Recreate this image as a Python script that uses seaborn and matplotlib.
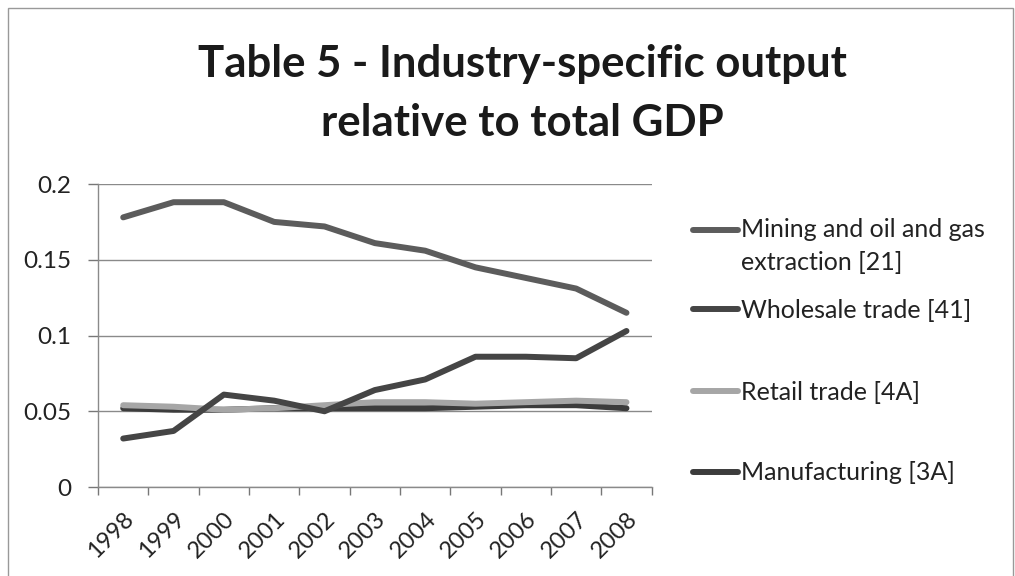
import matplotlib
matplotlib.use("Agg")
import matplotlib.pyplot as plt
import seaborn as sns
import pandas as pd
from matplotlib.patches import Rectangle
from matplotlib.transforms import Affine2D

years = ["1998", "1999", "2000", "2001", "2002", "2003", "2004", "2005", "2006", "2007", "2008"]
mining = [0.178, 0.188, 0.188, 0.175, 0.172, 0.161, 0.156, 0.145, 0.138, 0.131, 0.115]
wholesale = [0.032, 0.037, 0.061, 0.057, 0.050, 0.064, 0.071, 0.086, 0.086, 0.085, 0.103]
retail = [0.054, 0.053, 0.051, 0.052, 0.054, 0.056, 0.056, 0.055, 0.056, 0.057, 0.056]
manufacturing = [0.052, 0.051, 0.051, 0.052, 0.052, 0.052, 0.052, 0.053, 0.054, 0.054, 0.052]
series_names = ["Mining and oil and gas\nextraction [21]", "Wholesale trade [41]",
                "Retail trade [4A]", "Manufacturing [3A]"]
yticks = [0, 0.05, 0.1, 0.15, 0.2]
ytick_labels = ["0", "0.05", "0.1", "0.15", "0.2"]
title_lines = ["Table 5 - Industry-specific output", "relative to total GDP"]

sns.set_theme(style="white")
plt.rcParams["font.family"] = ["Lato", "DejaVu Sans"]

df = pd.DataFrame({
    "year": years * 4,
    "value": mining + wholesale + retail + manufacturing,
    "series": sum([[n] * len(years) for n in series_names], []),
})

colors = ["#5c5c5c", "#454545", "#a6a6a6", "#3c3c3c"]
palette = dict(zip(series_names, colors))

fig = plt.figure(figsize=(10.15, 5.76), dpi=100)
fig.patch.set_facecolor("white")
ax = fig.add_axes([0.0966, 0.1545, 0.5454, 0.526])

order = [series_names[3], series_names[2], series_names[1], series_names[0]]
df["pos"] = df["year"].map({y: i for i, y in enumerate(years)})
for name in order:
    sub = df[df["series"] == name]
    sns.lineplot(data=sub, x="pos", y="value", color=palette[name], lw=4.3,
                 ax=ax, label=name, solid_capstyle="round", legend=False)

ax.set_xlim(-0.5, len(years) - 0.5)
ax.set_ylim(0, 0.2)
ax.set_yticks(yticks)
ax.set_yticklabels(ytick_labels, fontsize=17.5, color="#222222")
ax.set_xticks(range(len(years)))
ax.set_xticklabels(years, rotation=45, ha="right", va="top", rotation_mode="anchor",
                   fontsize=17, color="#222222")
ax.set_xticks([i - 0.5 for i in range(len(years) + 1)], minor=True)
ax.tick_params(axis="x", which="major", bottom=True, length=0, pad=15)
ax.tick_params(axis="x", which="minor", bottom=True, length=6, width=1, color="#777777",
               direction="out")
ax.tick_params(axis="y", which="major", left=True, length=7, width=1, color="#777777",
               direction="out", pad=12)
ax.set_xlabel("")
ax.set_ylabel("")
ax.yaxis.grid(True, color="#8a8a8a", lw=1)
ax.set_axisbelow(True)
for s in ["top", "right"]:
    ax.spines[s].set_visible(False)
for s in ["left", "bottom"]:
    ax.spines[s].set_color("#8a8a8a")
    ax.spines[s].set_linewidth(1)

# legend: one slot per series, evenly placed as in the original
hl = {l.get_label(): l for l in ax.get_lines()}
slot_y = [246, 310, 392, 473]
for i, name in enumerate(series_names):
    lg = fig.legend([hl[name]], [name], loc="center left",
                    bbox_to_anchor=(0.683, 1 - slot_y[i] / 576),
                    frameon=False, fontsize=18, handlelength=1.8, handletextpad=0.1,
                    labelcolor="#222222", borderpad=0, borderaxespad=0)
    for t in lg.get_texts():
        t.set_linespacing(1.5)
    if "\n" in name:
        h = lg.legend_handles[0]
        h.set_transform(h.get_transform() + Affine2D().translate(0, 17))

fig.text(0.515, 1 - 77 / 576, title_lines[0], ha="center", va="baseline", fontsize=31.5,
         fontweight="bold", color="#1a1a1a")
fig.text(0.515, 1 - 136 / 576, title_lines[1], ha="center", va="baseline", fontsize=31.5,
         fontweight="bold", color="#1a1a1a")

fig.patches.append(Rectangle((0.008, -0.01), 0.99, 0.996, transform=fig.transFigure,
                             fill=False, edgecolor="#999999", lw=1))

fig.savefig("out.png", dpi=100, facecolor="white")
